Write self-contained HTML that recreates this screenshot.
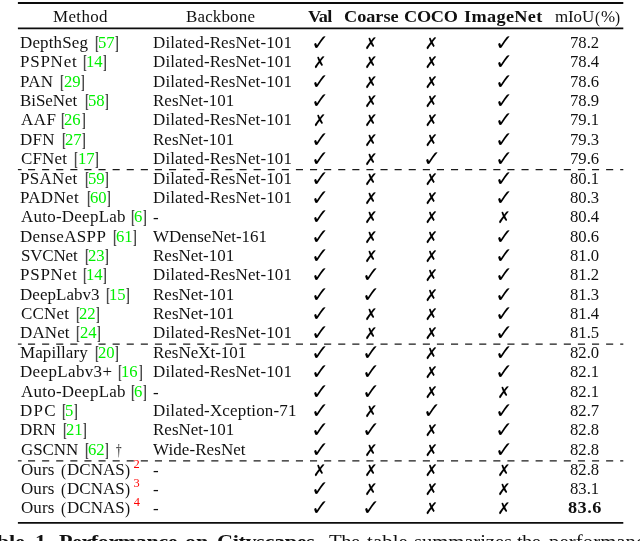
<!DOCTYPE html>
<html lang="en"><head><meta charset="utf-8"><title>Table 1: Performance on Cityscapes</title>
<style>
html,body{margin:0;padding:0;background:#fff;}
body{width:640px;height:541px;overflow:hidden;position:relative;font-family:"Liberation Serif",serif;color:#111;}
.t{position:absolute;left:0;top:0;width:640px;height:541px;overflow:hidden;}
.r{height:0;}
.t .c{transform:none;}
.t i{display:inline-block;position:relative;font-style:normal;line-height:20px;height:20px;transform-origin:0 0;transform:scaleX(1.06);}
.t span{position:absolute;line-height:20px;height:20px;white-space:nowrap;font-size:16.0px;transform-origin:0 0;transform:scaleX(1.06);}
.t .b{font-weight:bold;transform:scaleX(1.14);}
.t .g{color:#00f000;transform:none;}
.t .q{color:#4a4a4a;font-weight:bold;}
.t .s{color:#f00;transform:none;}
.t .k{font-family:"DejaVu Sans",sans-serif;color:#000;transform-origin:50% 50%;}
.t .y{font-size:21.8px;transform:translateX(-50%) scaleX(0.99);}
.t .n{font-size:16.2px;transform:translateX(-50%);}
</style></head><body>
<div class="t">
<svg width="640" height="541" viewBox="0 0 640 541" style="position:absolute;left:0;top:0"><line x1="17.9" y1="2.95" x2="623.3" y2="2.95" stroke="#0c0c0c" stroke-width="1.9"/><line x1="17.9" y1="28.45" x2="623.3" y2="28.45" stroke="#0c0c0c" stroke-width="1.7"/><line x1="17.9" y1="522.9" x2="623.3" y2="522.9" stroke="#0c0c0c" stroke-width="1.9"/><line x1="17.9" y1="169.6" x2="21.6" y2="169.6" stroke="#1a1a1a" stroke-width="1.15"/><line x1="28.0" y1="169.6" x2="623.3" y2="169.6" stroke="#1a1a1a" stroke-width="1.15" stroke-dasharray="7.1 7.0"/><line x1="17.9" y1="344.1" x2="21.6" y2="344.1" stroke="#1a1a1a" stroke-width="1.15"/><line x1="28.0" y1="344.1" x2="623.3" y2="344.1" stroke="#1a1a1a" stroke-width="1.15" stroke-dasharray="7.1 7.0"/><line x1="17.9" y1="460.85" x2="21.6" y2="460.85" stroke="#1a1a1a" stroke-width="1.15"/><line x1="28.0" y1="460.85" x2="623.3" y2="460.85" stroke="#1a1a1a" stroke-width="1.15" stroke-dasharray="7.1 7.0"/></svg>
<div class="r"><span style="left:52.7px;top:7px;letter-spacing:0.34px">Method</span> <span style="left:185.8px;top:7px;letter-spacing:0.15px">Backbone</span> <span class="b" style="left:307.95px;top:7px;letter-spacing:-0.64px">Val</span> <span class="b" style="left:343.85px;top:7px;letter-spacing:-0.02px">Coarse</span> <span class="b" style="left:404.45px;top:7px;letter-spacing:-0.23px">COCO</span> <span class="b" style="left:464.2px;top:7px;letter-spacing:0.3px">ImageNet</span> <span class="c" style="left:0;top:7px"><i style="left:555.45px;letter-spacing:-0.13px">mIoU</i><i style="left:558.54px;transform-origin:0 8.5px;transform:scale(0.95,1.08)">(</i><i style="left:558.46px">%</i><i style="left:559.73px;transform-origin:0 8.5px;transform:scale(0.95,1.08)">)</i></span></div>
<div class="r"><span class="c" style="left:0;top:33px"><i style="left:20.4px;letter-spacing:0.15px">DepthSeg</i> <i class="q" style="left:26.54px;transform-origin:0 8.5px;transform:scale(0.72,1.18)">[</i><i class="g" style="left:24.36px;transform:scaleX(1.04)">57</i><i class="q" style="left:25.36px;transform-origin:0 8.5px;transform:scale(0.72,1.18)">]</i></span> <span style="left:152.7px;top:33px;letter-spacing:0.13px">Dilated-ResNet-101</span> <span class="k y" style="left:319.9px;top:33px">✓</span> <span class="k n" style="left:371px;top:34px">✗</span> <span class="k n" style="left:431.6px;top:34px">✗</span> <span class="k y" style="left:504.2px;top:33px">✓</span> <span style="left:570.4px;top:33px;transform:scaleX(1.04)">78.2</span></div>
<div class="r"><span class="c" style="left:0;top:52px"><i style="left:20.4px;letter-spacing:0.73px">PSPNet</i> <i class="q" style="left:24.86px;transform-origin:0 8.5px;transform:scale(0.72,1.18)">[</i><i class="g" style="left:22.68px;transform:scaleX(1.04)">14</i><i class="q" style="left:23.98px;transform-origin:0 8.5px;transform:scale(0.72,1.18)">]</i></span> <span style="left:152.7px;top:52px;letter-spacing:0.13px">Dilated-ResNet-101</span> <span class="k n" style="left:319.7px;top:53px">✗</span> <span class="k n" style="left:371px;top:53px">✗</span> <span class="k n" style="left:431.6px;top:53px">✗</span> <span class="k y" style="left:504.2px;top:52px">✓</span> <span style="left:570.4px;top:52px;transform:scaleX(1.04)">78.4</span></div>
<div class="r"><span class="c" style="left:0;top:72px"><i style="left:20.4px;letter-spacing:0.28px">PAN</i> <i class="q" style="left:25.06px;transform-origin:0 8.5px;transform:scale(0.72,1.18)">[</i><i class="g" style="left:22.88px;transform:scaleX(1.04)">29</i><i class="q" style="left:24.28px;transform-origin:0 8.5px;transform:scale(0.72,1.18)">]</i></span> <span style="left:152.7px;top:72px;letter-spacing:0.13px">Dilated-ResNet-101</span> <span class="k y" style="left:319.9px;top:72px">✓</span> <span class="k n" style="left:371px;top:73px">✗</span> <span class="k n" style="left:431.6px;top:73px">✗</span> <span class="k y" style="left:504.2px;top:72px">✓</span> <span style="left:570.4px;top:72px;transform:scaleX(1.04)">78.6</span></div>
<div class="r"><span class="c" style="left:0;top:91px"><i style="left:20.4px;letter-spacing:-0.06px">BiSeNet</i> <i class="q" style="left:26.74px;transform-origin:0 8.5px;transform:scale(0.72,1.18)">[</i><i class="g" style="left:24.56px;transform:scaleX(1.04)">58</i><i class="q" style="left:25.56px;transform-origin:0 8.5px;transform:scale(0.72,1.18)">]</i></span> <span style="left:152.7px;top:91px;letter-spacing:0.03px">ResNet-101</span> <span class="k y" style="left:319.9px;top:91px">✓</span> <span class="k n" style="left:371px;top:92px">✗</span> <span class="k n" style="left:431.6px;top:92px">✗</span> <span class="k y" style="left:504.2px;top:91px">✓</span> <span style="left:570.4px;top:91px;transform:scaleX(1.04)">78.9</span></div>
<div class="r"><span class="c" style="left:0;top:110px"><i style="left:20.65px;letter-spacing:0.52px">AAF</i> <i class="q" style="left:23.67px;transform-origin:0 8.5px;transform:scale(0.72,1.18)">[</i><i class="g" style="left:21.49px;transform:scaleX(1.04)">26</i><i class="q" style="left:22.89px;transform-origin:0 8.5px;transform:scale(0.72,1.18)">]</i></span> <span style="left:152.7px;top:110px;letter-spacing:0.13px">Dilated-ResNet-101</span> <span class="k n" style="left:319.7px;top:111px">✗</span> <span class="k n" style="left:371px;top:111px">✗</span> <span class="k n" style="left:431.6px;top:111px">✗</span> <span class="k y" style="left:504.2px;top:110px">✓</span> <span style="left:570.4px;top:110px;transform:scaleX(1.04)">79.1</span></div>
<div class="r"><span class="c" style="left:0;top:130px"><i style="left:20.4px;letter-spacing:0.28px">DFN</i> <i class="q" style="left:24.89px;transform-origin:0 8.5px;transform:scale(0.72,1.18)">[</i><i class="g" style="left:22.71px;transform:scaleX(1.04)">27</i><i class="q" style="left:23.81px;transform-origin:0 8.5px;transform:scale(0.72,1.18)">]</i></span> <span style="left:152.7px;top:130px;letter-spacing:0.03px">ResNet-101</span> <span class="k y" style="left:319.9px;top:130px">✓</span> <span class="k n" style="left:371px;top:131px">✗</span> <span class="k n" style="left:431.6px;top:131px">✗</span> <span class="k y" style="left:504.2px;top:130px">✓</span> <span style="left:570.4px;top:130px;transform:scaleX(1.04)">79.3</span></div>
<div class="r"><span class="c" style="left:0;top:149px"><i style="left:21.05px;letter-spacing:0.17px">CFNet</i> <i class="q" style="left:26.92px;transform-origin:0 8.5px;transform:scale(0.72,1.18)">[</i><i class="g" style="left:24.74px;transform:scaleX(1.04)">17</i><i class="q" style="left:26.14px;transform-origin:0 8.5px;transform:scale(0.72,1.18)">]</i></span> <span style="left:152.7px;top:149px;letter-spacing:0.13px">Dilated-ResNet-101</span> <span class="k y" style="left:319.9px;top:149px">✓</span> <span class="k n" style="left:371px;top:150px">✗</span> <span class="k y" style="left:431.8px;top:149px">✓</span> <span class="k y" style="left:504.2px;top:149px">✓</span> <span style="left:570.4px;top:149px;transform:scaleX(1.04)">79.6</span></div>
<div class="r"><span class="c" style="left:0;top:169px"><i style="left:20.4px;letter-spacing:0.3px">PSANet</i> <i class="q" style="left:26.48px;transform-origin:0 8.5px;transform:scale(0.72,1.18)">[</i><i class="g" style="left:24.31px;transform:scaleX(1.04)">59</i><i class="q" style="left:25.41px;transform-origin:0 8.5px;transform:scale(0.72,1.18)">]</i></span> <span style="left:152.7px;top:169px;letter-spacing:0.13px">Dilated-ResNet-101</span> <span class="k y" style="left:319.9px;top:169px">✓</span> <span class="k n" style="left:371px;top:170px">✗</span> <span class="k n" style="left:431.6px;top:170px">✗</span> <span class="k y" style="left:504.2px;top:169px">✓</span> <span style="left:570.4px;top:169px;transform:scaleX(1.04)">80.1</span></div>
<div class="r"><span class="c" style="left:0;top:188px"><i style="left:20.4px;letter-spacing:0.35px">PADNet</i> <i class="q" style="left:26.8px;transform-origin:0 8.5px;transform:scale(0.72,1.18)">[</i><i class="g" style="left:24.62px;transform:scaleX(1.04)">60</i><i class="q" style="left:25.92px;transform-origin:0 8.5px;transform:scale(0.72,1.18)">]</i></span> <span style="left:152.7px;top:188px;letter-spacing:0.13px">Dilated-ResNet-101</span> <span class="k y" style="left:319.9px;top:188px">✓</span> <span class="k n" style="left:371px;top:189px">✗</span> <span class="k n" style="left:431.6px;top:189px">✗</span> <span class="k y" style="left:504.2px;top:188px">✓</span> <span style="left:570.4px;top:188px;transform:scaleX(1.04)">80.3</span></div>
<div class="r"><span class="c" style="left:0;top:207px"><i style="left:20.65px;letter-spacing:0.24px">Auto-DeepLab</i> <i class="q" style="left:28.31px;transform-origin:0 8.5px;transform:scale(0.72,1.18)">[</i><i class="g" style="left:26.13px;transform:scaleX(1.04)">6</i><i class="q" style="left:26.43px;transform-origin:0 8.5px;transform:scale(0.72,1.18)">]</i></span> <span style="left:152.5px;top:208px">-</span> <span class="k y" style="left:319.9px;top:207px">✓</span> <span class="k n" style="left:371px;top:208px">✗</span> <span class="k n" style="left:431.6px;top:208px">✗</span> <span class="k n" style="left:504px;top:208px">✗</span> <span style="left:570.4px;top:207px;transform:scaleX(1.04)">80.4</span></div>
<div class="r"><span class="c" style="left:0;top:227px"><i style="left:20.4px;letter-spacing:0.34px">DenseASPP</i> <i class="q" style="left:27.25px;transform-origin:0 8.5px;transform:scale(0.72,1.18)">[</i><i class="g" style="left:25.08px;transform:scaleX(1.04)">61</i><i class="q" style="left:26.07px;transform-origin:0 8.5px;transform:scale(0.72,1.18)">]</i></span> <span style="left:153.2px;top:227px">WDenseNet-161</span> <span class="k y" style="left:319.9px;top:227px">✓</span> <span class="k n" style="left:371px;top:228px">✗</span> <span class="k n" style="left:431.6px;top:228px">✗</span> <span class="k y" style="left:504.2px;top:227px">✓</span> <span style="left:570.4px;top:227px;transform:scaleX(1.04)">80.6</span></div>
<div class="r"><span class="c" style="left:0;top:246px"><i style="left:20.8px;letter-spacing:-0.15px">SVCNet</i> <i class="q" style="left:27.42px;transform-origin:0 8.5px;transform:scale(0.72,1.18)">[</i><i class="g" style="left:25.24px;transform:scaleX(1.04)">23</i><i class="q" style="left:26.34px;transform-origin:0 8.5px;transform:scale(0.72,1.18)">]</i></span> <span style="left:152.7px;top:246px;letter-spacing:0.03px">ResNet-101</span> <span class="k y" style="left:319.9px;top:246px">✓</span> <span class="k n" style="left:371px;top:247px">✗</span> <span class="k n" style="left:431.6px;top:247px">✗</span> <span class="k y" style="left:504.2px;top:246px">✓</span> <span style="left:570.4px;top:246px;transform:scaleX(1.04)">81.0</span></div>
<div class="r"><span class="c" style="left:0;top:265px"><i style="left:20.4px;letter-spacing:0.73px">PSPNet</i> <i class="q" style="left:24.86px;transform-origin:0 8.5px;transform:scale(0.72,1.18)">[</i><i class="g" style="left:22.68px;transform:scaleX(1.04)">14</i><i class="q" style="left:23.98px;transform-origin:0 8.5px;transform:scale(0.72,1.18)">]</i></span> <span style="left:152.7px;top:265px;letter-spacing:0.13px">Dilated-ResNet-101</span> <span class="k y" style="left:319.9px;top:265px">✓</span> <span class="k y" style="left:371.2px;top:265px">✓</span> <span class="k n" style="left:431.6px;top:266px">✗</span> <span class="k y" style="left:504.2px;top:265px">✓</span> <span style="left:570.4px;top:265px;transform:scaleX(1.04)">81.2</span></div>
<div class="r"><span class="c" style="left:0;top:285px"><i style="left:20.4px;letter-spacing:0.05px">DeepLabv3</i> <i class="q" style="left:27.16px;transform-origin:0 8.5px;transform:scale(0.72,1.18)">[</i><i class="g" style="left:24.98px;transform:scaleX(1.04)">15</i><i class="q" style="left:25.18px;transform-origin:0 8.5px;transform:scale(0.72,1.18)">]</i></span> <span style="left:152.7px;top:285px;letter-spacing:0.03px">ResNet-101</span> <span class="k y" style="left:319.9px;top:285px">✓</span> <span class="k y" style="left:371.2px;top:285px">✓</span> <span class="k n" style="left:431.6px;top:286px">✗</span> <span class="k y" style="left:504.2px;top:285px">✓</span> <span style="left:570.4px;top:285px;transform:scaleX(1.04)">81.3</span></div>
<div class="r"><span class="c" style="left:0;top:304px"><i style="left:21.05px;letter-spacing:0.22px">CCNet</i> <i class="q" style="left:26.5px;transform-origin:0 8.5px;transform:scale(0.72,1.18)">[</i><i class="g" style="left:24.33px;transform:scaleX(1.04)">22</i><i class="q" style="left:25.42px;transform-origin:0 8.5px;transform:scale(0.72,1.18)">]</i></span> <span style="left:152.7px;top:304px;letter-spacing:0.03px">ResNet-101</span> <span class="k y" style="left:319.9px;top:304px">✓</span> <span class="k n" style="left:371px;top:305px">✗</span> <span class="k n" style="left:431.6px;top:305px">✗</span> <span class="k y" style="left:504.2px;top:304px">✓</span> <span style="left:570.4px;top:304px;transform:scaleX(1.04)">81.4</span></div>
<div class="r"><span class="c" style="left:0;top:323px"><i style="left:20.4px;letter-spacing:0.14px">DANet</i> <i class="q" style="left:25.53px;transform-origin:0 8.5px;transform:scale(0.72,1.18)">[</i><i class="g" style="left:23.35px;transform:scaleX(1.04)">24</i><i class="q" style="left:24.35px;transform-origin:0 8.5px;transform:scale(0.72,1.18)">]</i></span> <span style="left:152.7px;top:323px;letter-spacing:0.13px">Dilated-ResNet-101</span> <span class="k y" style="left:319.9px;top:323px">✓</span> <span class="k n" style="left:371px;top:324px">✗</span> <span class="k n" style="left:431.6px;top:324px">✗</span> <span class="k y" style="left:504.2px;top:323px">✓</span> <span style="left:570.4px;top:323px;transform:scaleX(1.04)">81.5</span></div>
<div class="r"><span class="c" style="left:0;top:343px"><i style="left:20.4px;letter-spacing:0.1px">Mapillary</i> <i class="q" style="left:26.85px;transform-origin:0 8.5px;transform:scale(0.72,1.18)">[</i><i class="g" style="left:24.67px;transform:scaleX(1.04)">20</i><i class="q" style="left:26.07px;transform-origin:0 8.5px;transform:scale(0.72,1.18)">]</i></span> <span style="left:152.7px;top:343px">ResNeXt-101</span> <span class="k y" style="left:319.9px;top:343px">✓</span> <span class="k y" style="left:371.2px;top:343px">✓</span> <span class="k n" style="left:431.6px;top:344px">✗</span> <span class="k y" style="left:504.2px;top:343px">✓</span> <span style="left:570.4px;top:343px;transform:scaleX(1.04)">82.0</span></div>
<div class="r"><span class="c" style="left:0;top:362px"><i style="left:20.4px;letter-spacing:0.35px">DeepLabv3+</i> <i class="q" style="left:26.99px;transform-origin:0 8.5px;transform:scale(0.72,1.18)">[</i><i class="g" style="left:24.82px;transform:scaleX(1.04)">16</i><i class="q" style="left:26.02px;transform-origin:0 8.5px;transform:scale(0.72,1.18)">]</i></span> <span style="left:152.7px;top:362px;letter-spacing:0.13px">Dilated-ResNet-101</span> <span class="k y" style="left:319.9px;top:362px">✓</span> <span class="k y" style="left:371.2px;top:362px">✓</span> <span class="k n" style="left:431.6px;top:363px">✗</span> <span class="k y" style="left:504.2px;top:362px">✓</span> <span style="left:570.4px;top:362px;transform:scaleX(1.04)">82.1</span></div>
<div class="r"><span class="c" style="left:0;top:382px"><i style="left:20.65px;letter-spacing:0.24px">Auto-DeepLab</i> <i class="q" style="left:28.31px;transform-origin:0 8.5px;transform:scale(0.72,1.18)">[</i><i class="g" style="left:26.13px;transform:scaleX(1.04)">6</i><i class="q" style="left:26.43px;transform-origin:0 8.5px;transform:scale(0.72,1.18)">]</i></span> <span style="left:152.5px;top:383px">-</span> <span class="k y" style="left:319.9px;top:382px">✓</span> <span class="k y" style="left:371.2px;top:382px">✓</span> <span class="k n" style="left:431.6px;top:383px">✗</span> <span class="k n" style="left:504px;top:383px">✗</span> <span style="left:570.4px;top:382px;transform:scaleX(1.04)">82.1</span></div>
<div class="r"><span class="c" style="left:0;top:401px"><i style="left:20.4px;letter-spacing:1.23px">DPC</i> <i class="q" style="left:23.22px;transform-origin:0 8.5px;transform:scale(0.72,1.18)">[</i><i class="g" style="left:21.04px;transform:scaleX(1.04)">5</i><i class="q" style="left:22.24px;transform-origin:0 8.5px;transform:scale(0.72,1.18)">]</i></span> <span style="left:152.7px;top:401px;letter-spacing:0.16px">Dilated-Xception-71</span> <span class="k y" style="left:319.9px;top:401px">✓</span> <span class="k n" style="left:371px;top:402px">✗</span> <span class="k y" style="left:431.8px;top:401px">✓</span> <span class="k y" style="left:504.2px;top:401px">✓</span> <span style="left:570.4px;top:401px;transform:scaleX(1.04)">82.7</span></div>
<div class="r"><span class="c" style="left:0;top:420px"><i style="left:20.4px;letter-spacing:-0.05px">DRN</i> <i class="q" style="left:24.91px;transform-origin:0 8.5px;transform:scale(0.72,1.18)">[</i><i class="g" style="left:22.73px;transform:scaleX(1.04)">21</i><i class="q" style="left:24.23px;transform-origin:0 8.5px;transform:scale(0.72,1.18)">]</i></span> <span style="left:152.7px;top:420px;letter-spacing:0.03px">ResNet-101</span> <span class="k y" style="left:319.9px;top:420px">✓</span> <span class="k y" style="left:371.2px;top:420px">✓</span> <span class="k n" style="left:431.6px;top:421px">✗</span> <span class="k y" style="left:504.2px;top:420px">✓</span> <span style="left:570.4px;top:420px;transform:scaleX(1.04)">82.8</span></div>
<div class="r"><span class="c" style="left:0;top:440px"><i style="left:21.05px;letter-spacing:-0.07px">GSCNN</i> <i class="q" style="left:26.86px;transform-origin:0 8.5px;transform:scale(0.72,1.18)">[</i><i class="g" style="left:24.68px;transform:scaleX(1.04)">62</i><i class="q" style="left:25.78px;transform-origin:0 8.5px;transform:scale(0.72,1.18)">]</i> <i style="left:27px;top:1px;transform:scaleX(0.7)">†</i></span> <span style="left:153.2px;top:440px;letter-spacing:0.09px">Wide-ResNet</span> <span class="k y" style="left:319.9px;top:440px">✓</span> <span class="k n" style="left:371px;top:441px">✗</span> <span class="k n" style="left:431.6px;top:441px">✗</span> <span class="k y" style="left:504.2px;top:440px">✓</span> <span style="left:570.4px;top:440px;transform:scaleX(1.04)">82.8</span></div>
<div class="r"><span class="c" style="left:0;top:460px"><i style="left:20.85px;letter-spacing:0.11px">Ours</i> <i style="left:25.69px;transform-origin:0 8.5px;transform:scale(0.95,1.08)">(</i><i style="left:25.91px;letter-spacing:0.05px">DCNAS</i><i style="left:29.53px;transform-origin:0 8.5px;transform:scale(0.95,1.08)">)</i> <i class="s" style="left:28.7px;top:-7px;font-size:12.4px">2</i></span> <span style="left:152.5px;top:461px">-</span> <span class="k n" style="left:319.7px;top:461px">✗</span> <span class="k n" style="left:371px;top:461px">✗</span> <span class="k n" style="left:431.6px;top:461px">✗</span> <span class="k n" style="left:504px;top:461px">✗</span> <span style="left:570.4px;top:460px;transform:scaleX(1.04)">82.8</span></div>
<div class="r"><span class="c" style="left:0;top:479px"><i style="left:20.85px;letter-spacing:0.11px">Ours</i> <i style="left:25.69px;transform-origin:0 8.5px;transform:scale(0.95,1.08)">(</i><i style="left:25.91px;letter-spacing:0.05px">DCNAS</i><i style="left:29.53px;transform-origin:0 8.5px;transform:scale(0.95,1.08)">)</i> <i class="s" style="left:28.7px;top:-7px;font-size:12.4px">3</i></span> <span style="left:152.5px;top:480px">-</span> <span class="k y" style="left:319.9px;top:479px">✓</span> <span class="k n" style="left:371px;top:480px">✗</span> <span class="k n" style="left:431.6px;top:480px">✗</span> <span class="k n" style="left:504px;top:480px">✗</span> <span style="left:570.4px;top:479px;transform:scaleX(1.04)">83.1</span></div>
<div class="r"><span class="c" style="left:0;top:498px"><i style="left:20.85px;letter-spacing:0.11px">Ours</i> <i style="left:25.69px;transform-origin:0 8.5px;transform:scale(0.95,1.08)">(</i><i style="left:25.91px;letter-spacing:0.05px">DCNAS</i><i style="left:29.53px;transform-origin:0 8.5px;transform:scale(0.95,1.08)">)</i> <i class="s" style="left:28.95px;top:-7px;font-size:12.4px">4</i></span> <span style="left:152.5px;top:499px">-</span> <span class="k y" style="left:319.9px;top:498px">✓</span> <span class="k y" style="left:371.2px;top:498px">✓</span> <span class="k n" style="left:431.6px;top:499px">✗</span> <span class="k n" style="left:504px;top:499px">✗</span> <span class="b" style="left:568.4px;top:498px;letter-spacing:0.44px">83.6</span></div>
<div class="r"><span class="c" style="left:0;top:532px;font-size:19.5px"><i class="b" style="left:-27.25px;letter-spacing:-0.1px">Table</i> <i class="b" style="left:-15.62px;letter-spacing:-0.1px">1.</i> <i class="b" style="left:-10.23px;letter-spacing:-0.43px">Performance</i> <i class="b" style="left:6.65px;letter-spacing:-0.1px">on</i> <i class="b" style="left:13.32px;letter-spacing:-0.32px">Cityscapes.</i> <i style="left:31.01px;letter-spacing:-0.4px">The</i> <i style="left:35.01px;letter-spacing:0.13px">table</i> <i style="left:38.08px;letter-spacing:-0.07px">summarizes</i> <i style="left:43.46px;letter-spacing:-0.6px">the</i> <i style="left:49.35px;letter-spacing:0.1px">performance</i></span></div>
</div></body></html>
